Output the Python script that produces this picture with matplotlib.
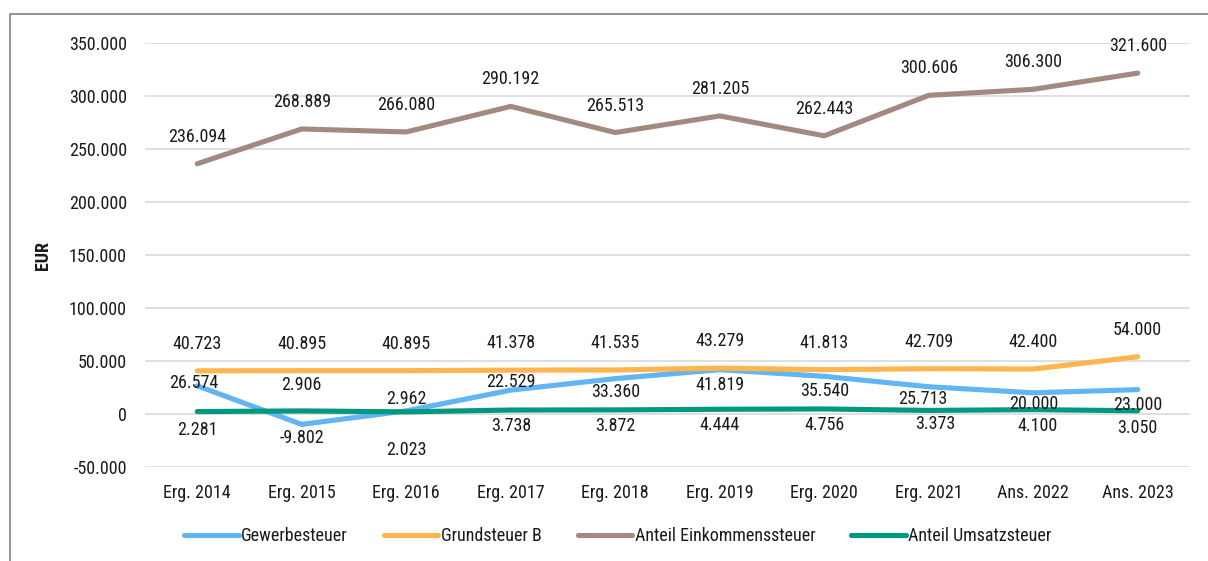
import matplotlib
matplotlib.use("Agg")
import matplotlib.pyplot as plt
from matplotlib.lines import Line2D
from matplotlib import font_manager

available = {f.name for f in font_manager.fontManager.ttflist}
narrow_candidates = ['Liberation Sans Narrow', 'Arial Narrow', 'Roboto Condensed',
                     'Open Sans Condensed', 'Noto Sans Condensed', 'DejaVu Sans Condensed']
chosen = None
for c in narrow_candidates:
    if c in available:
        chosen = c
        break
if chosen is None:
    chosen = 'Liberation Sans'
    fs = 11.2
else:
    fs = 13
plt.rcParams['font.family'] = [chosen, 'Liberation Sans', 'DejaVu Sans']

categories = ["Erg. 2014", "Erg. 2015", "Erg. 2016", "Erg. 2017", "Erg. 2018",
              "Erg. 2019", "Erg. 2020", "Erg. 2021", "Ans. 2022", "Ans. 2023"]
gewerbesteuer = [26574, -9802, 2962, 22529, 33360, 41819, 35540, 25713, 20000, 23000]
grundsteuer_b = [40723, 40895, 40895, 41378, 41535, 43279, 41813, 42709, 42400, 54000]
einkommensteuer = [236094, 268889, 266080, 290192, 265513, 281205, 262443, 300606, 306300, 321600]
umsatzsteuer = [2281, 2906, 2023, 3738, 3872, 4444, 4756, 3373, 4100, 3050]
series_names = ["Gewerbesteuer", "Grundsteuer B", "Anteil Einkommenssteuer", "Anteil Umsatzsteuer"]
yticks = [-50000, 0, 50000, 100000, 150000, 200000, 250000, 300000, 350000]

# label offsets in pixels (dx, dy), style only
off_gew = [(-4, 3), (0, -14), (0, 12), (0, 8), (0, -13), (0, -15), (0, -15), (-6, -12), (0, -11), (0, -15)]
off_gru = [(0, 27)] * 10
off_ein = [(0, 27)] * 10
off_ums = [(0, -18), (0, 26), (0, -38), (0, -16), (0, -16), (0, -16), (0, -16), (7, -14), (4, -16), (0, -17)]

colors = ["#63B4F2", "#FFB54D", "#A28A80", "#00997F"]

W, H = 1208, 561
fig = plt.figure(figsize=(W / 100, H / 100), dpi=100)
ax = fig.add_axes([145 / W, 1 - 467 / H, 1045 / W, 424 / H])

def fmt(v):
    return f"{v:,.0f}".replace(",", ".")

x = list(range(len(categories)))
data = [gewerbesteuer, grundsteuer_b, einkommensteuer, umsatzsteuer]
offs = [off_gew, off_gru, off_ein, off_ums]
txtc = "#1a1a1a"
for vals, col, name in zip(data, colors, series_names):
    ax.plot(x, vals, color=col, lw=3.7, solid_capstyle='round', solid_joinstyle='round', label=name, zorder=3)
for vals, off in zip(data, offs):
    for xi, v, (dx, dy) in zip(x, vals, off):
        ax.annotate(fmt(v), (xi, v), xytext=(dx, dy), textcoords='offset pixels',
                    ha='center', va='center', fontsize=fs, color=txtc, zorder=5)

ax.set_xlim(-0.5, len(categories) - 0.5)
ax.set_ylim(-50000, 350000)
ax.set_yticks(yticks)
ax.set_yticklabels([fmt(v) for v in yticks])
ax.set_xticks(x)
ax.set_xticklabels(categories)
ax.tick_params(axis='both', length=0, labelsize=fs, colors=txtc)
ax.tick_params(axis='y', pad=13)
ax.tick_params(axis='x', pad=12)
ax.grid(axis='y', color='#D9D9D9', lw=1.2, zorder=0)
ax.set_axisbelow(True)
for s in ax.spines.values():
    s.set_visible(False)
ax.set_ylabel("EUR", fontsize=fs, fontweight='bold', color=txtc)
ax.yaxis.set_label_coords((52 - 145) / 1045, 0.5)

fig.legend(loc='center', bbox_to_anchor=(618 / W, 1 - 536 / H), ncol=4, frameon=False,
           fontsize=fs, handlelength=3.0, handletextpad=0.15, columnspacing=2.0,
           labelcolor=txtc)

fig.add_artist(Line2D([10 / W, 10 / W, 1.0], [0.0, 1 - 14 / H, 1 - 14 / H],
                      transform=fig.transFigure, color='#808080', lw=1.2))

fig.savefig("out.png", dpi=100)
